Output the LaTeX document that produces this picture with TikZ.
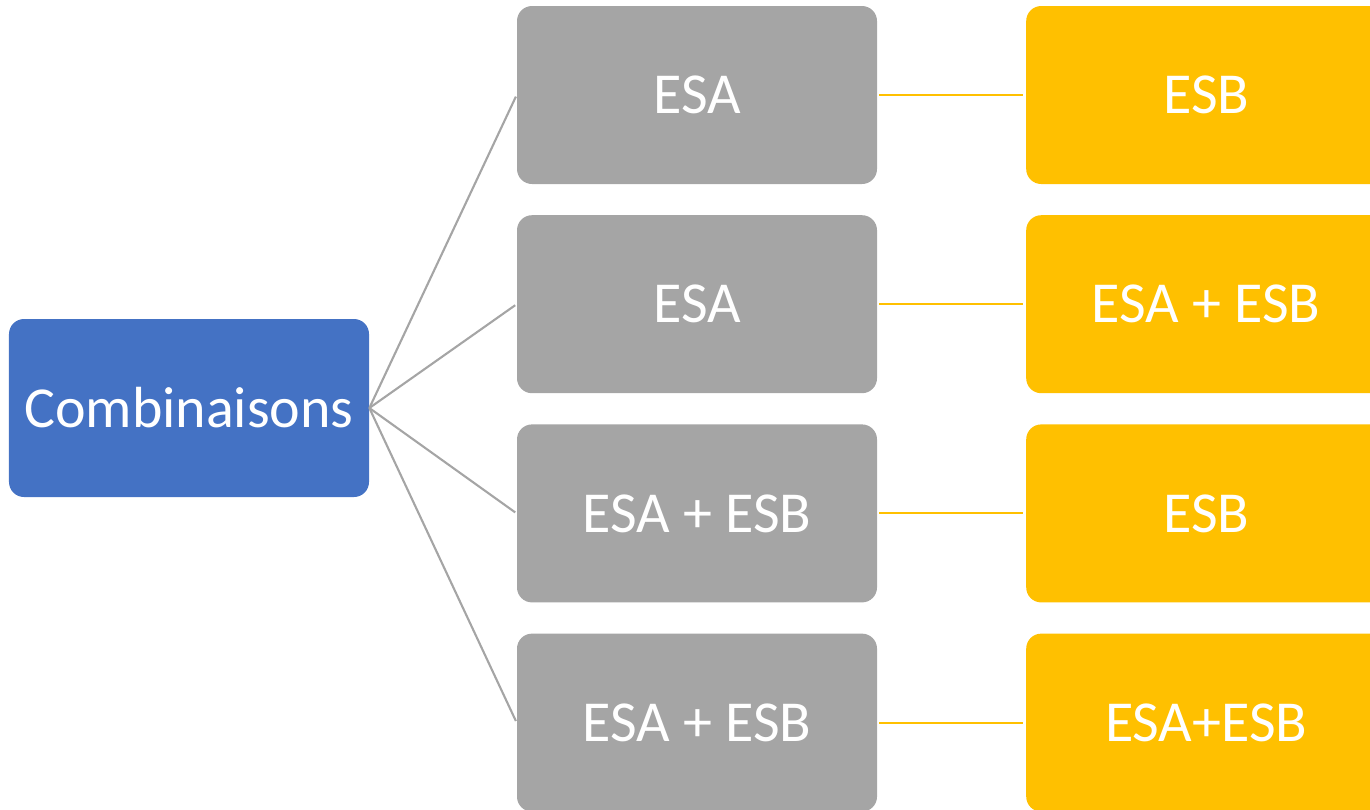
\documentclass[tikz,border=0pt]{standalone}
\usepackage{fontspec}
\setmainfont{Carlito}
\usepackage{tikz}
\usetikzlibrary{positioning}
\definecolor{combblue}{HTML}{4472C4}
\definecolor{esagray}{HTML}{A5A5A5}
\definecolor{esbgold}{HTML}{FFC000}

\begin{document}
\begin{tikzpicture}[
  node distance=6.1mm and 29.7mm,
  box/.style={rounded corners=3mm,minimum width=72mm,minimum height=35.6mm,inner sep=0pt,align=center,text=white,font=\fontsize{33}{40}\selectfont},
  rootbox/.style={box,fill=combblue},
  esabox/.style={box,fill=esagray},
  esbbox/.style={box,fill=esbgold},
  glink/.style={draw=esagray,line width=1.2pt,shorten >=1pt},
  ylink/.style={draw=esbgold,line width=1.2pt,shorten <=1pt,shorten >=1.5pt}]
  \clip (0,0) rectangle (27.4,-16.18);
  \node[rootbox] (comb) at (3.78,-8.16) {Combinaisons};
  \node[esabox] (a1) at (13.94,-1.9) {ESA};
  \node[esabox,below=of a1] (a2) {ESA};
  \node[esabox,below=of a2] (a3) {ESA + ESB};
  \node[esabox,below=of a3] (a4) {ESA + ESB};
  \node[esbbox,right=of a1] (b1) {ESB};
  \node[esbbox,right=of a2] (b2) {ESA + ESB};
  \node[esbbox,right=of a3] (b3) {ESB};
  \node[esbbox,right=of a4] (b4) {ESA+ESB};
  \foreach \a in {a1,a2,a3,a4} \draw[glink] (comb.east) -- (\a.west);
  \foreach \a/\b in {a1/b1,a2/b2,a3/b3,a4/b4} \draw[ylink] (\a) -- (\b);
\end{tikzpicture}
\end{document}
